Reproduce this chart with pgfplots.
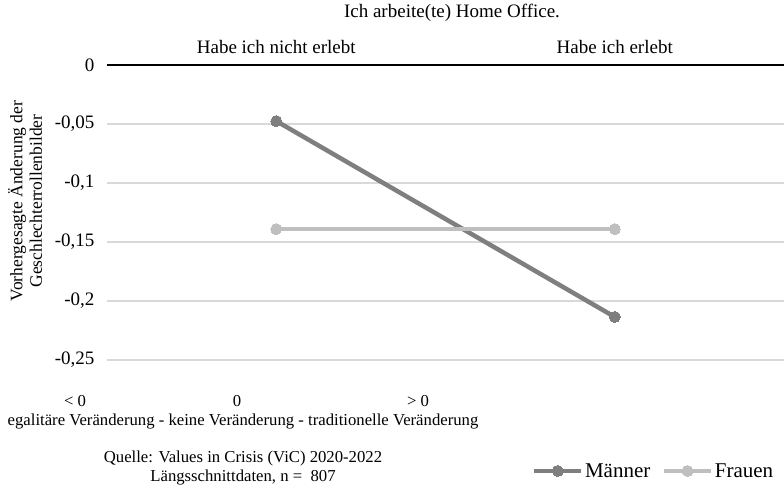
\documentclass[border=0pt]{standalone}
\usepackage{fontspec}
\setmainfont{Liberation Serif}
\usepackage{pgfplots}
\pgfplotsset{compat=1.18}
\definecolor{maenner}{HTML}{7F7F7F}
\definecolor{frauen}{HTML}{BFBFBF}
\definecolor{gridgrey}{HTML}{D9D9D9}
\newcommand{\fs}{\fontsize{16.7bp}{19bp}\selectfont}
\newcommand{\fy}{\fontsize{17.5bp}{19.5bp}\selectfont}
\newcommand{\fm}{\fontsize{19bp}{22bp}\selectfont}
\newcommand{\fl}{\fontsize{21bp}{24bp}\selectfont}

\begin{document}
\begin{tikzpicture}
\useasboundingbox (0,0) rectangle (784bp,486bp);
\begin{axis}[
    at={(107bp,126bp)}, anchor=south west,
    scale only axis, width=677bp, height=295bp,
    xmin=-0.5, xmax=1.5, ymin=-0.25, ymax=0,
    xtick={0,1},
    xticklabels={Habe ich nicht erlebt, Habe ich erlebt},
    xticklabel pos=upper,
    xticklabel style={yshift=8bp},
    ytick={-0.25,-0.2,-0.15,-0.1,-0.05,0},
    yticklabels={{-0,25},{-0,2},{-0,15},{-0,1},{-0,05},{0}},
    yticklabel style={xshift=-9bp},
    axis line style={draw=none},
    major tick style={draw=none},
    ymajorgrids, grid style={gridgrey, line width=1.5bp},
    ticklabel style={font=\fm},
    clip=false,
    legend columns=2,
    legend style={at={(0.9865,-0.376)}, anchor=east, draw=none, fill=none,
      font=\fl, inner sep=0pt,
      nodes={inner sep=1.5bp},
      /tikz/every even column/.append style={column sep=10bp}},
    legend image code/.code={\draw[mark repeat=2, mark phase=2, #1]
      plot coordinates {(0bp,0bp) (23.5bp,0bp) (47bp,0bp)};},
  ]
  \draw[black, line width=1.5bp] (axis cs:-0.5,0) -- (axis cs:1.5,0);
  \addplot[color=maenner, line width=4.5bp, mark=*, mark size=5.5bp,
    mark options={line width=0bp}] coordinates {(0,-0.0475) (1,-0.2135)};
  \addplot[color=frauen, line width=4.5bp, mark=*, mark size=5.5bp,
    mark options={line width=0bp}] coordinates {(0,-0.139) (1,-0.139)};
  \legend{Männer, Frauen}
\end{axis}
\node[font=\fm] at (452bp,473bp) {Ich arbeite(te) Home Office.};
\node[font=\fy, rotate=90, align=center] at (25bp,285bp)
  {Vorhergesagte Änderung der\\Geschlechterrollenbilder};
\node[font=\fs] at (75bp,85bp) {< 0};
\node[font=\fs] at (237bp,85bp) {0};
\node[font=\fs] at (418bp,85bp) {> 0};
\node[font=\fs] at (243bp,64bp)
  {egalitäre Veränderung - keine Veränderung - traditionelle Veränderung};
\node[font=\fs, align=center] at (243bp,18bp)
  {Quelle: Values in Crisis (ViC) 2020-2022\\Längsschnittdaten, n =\ \ 807};
\end{tikzpicture}
\end{document}
